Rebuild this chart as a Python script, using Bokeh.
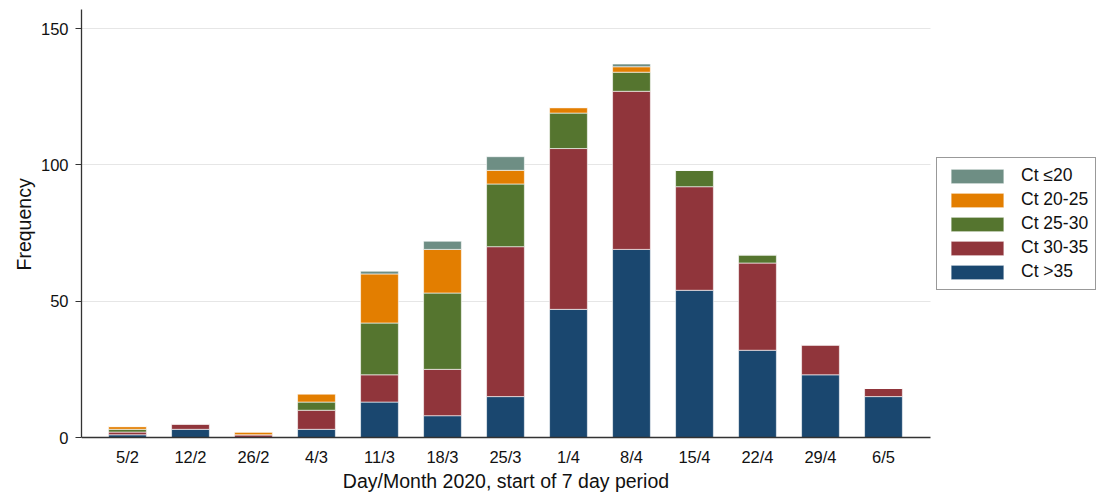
from bokeh.plotting import figure
from bokeh.models import Range1d, FixedTicker, Legend, LegendItem, Title
from bokeh.embed import file_html
from bokeh.resources import INLINE

weeks = ["5/2", "12/2", "26/2", "4/3", "11/3", "18/3", "25/3", "1/4", "8/4", "15/4", "22/4", "29/4", "6/5"]
ct_gt35 = [1, 3, 0, 3, 13, 8, 15, 47, 69, 54, 32, 23, 15]
ct_30_35 = [1, 2, 1, 7, 10, 17, 55, 59, 58, 38, 32, 11, 3]
ct_25_30 = [1, 0, 0, 3, 19, 28, 23, 13, 7, 6, 3, 0, 0]
ct_20_25 = [1, 0, 1, 3, 18, 16, 5, 2, 2, 0, 0, 0, 0]
ct_le20 = [0, 0, 0, 0, 1, 3, 5, 0, 1, 0, 0, 0, 0]
y_ticks = [0, 50, 100, 150]

series_keys = ["gt35", "c3035", "c2530", "c2025", "le20"]
series_labels = ["Ct >35", "Ct 30-35", "Ct 25-30", "Ct 20-25", "Ct \u226420"]
colors = ["#1a476f", "#90353b", "#55752f", "#e37e00", "#6e8e84"]

FONT = "Liberation Sans"

data = {"x": list(range(len(weeks))),
        "gt35": ct_gt35, "c3035": ct_30_35, "c2530": ct_25_30,
        "c2025": ct_20_25, "le20": ct_le20}

# plot area geometry (screen px)
W, H = 1098, 493
LEFT, TOP = 81, 9
PX_PER_CAT = 63.0
X0 = -0.73
X_AXIS_END = X0 + 849 / PX_PER_CAT
X_END = X0 + (W - LEFT) / PX_PER_CAT
Y_TOP = 157
PX_PER_UNIT = 428 / Y_TOP
Y_BOTTOM = -((H - TOP - 428) / PX_PER_UNIT)

p = figure(width=W, height=H, output_backend="svg", toolbar_location=None,
           x_range=Range1d(X0, X_END), y_range=Range1d(Y_BOTTOM, Y_TOP),
           min_border_left=LEFT, min_border_right=0, min_border_top=TOP, min_border_bottom=0)

renderers = p.vbar_stack(series_keys, x="x", width=0.6, source=data, color=colors,
                         line_color="white", line_width=0.6)

p.outline_line_color = None
p.background_fill_color = "white"
p.xgrid.grid_line_color = None
p.ygrid.grid_line_color = "#e6e6e6"
p.ygrid.grid_line_width = 1.2
p.ygrid.ticker = FixedTicker(ticks=y_ticks[1:])
p.ygrid.cross_bounds = (X0, X_AXIS_END)

p.xaxis.fixed_location = 0
p.xaxis.bounds = (X0, X_AXIS_END)
p.xaxis.ticker = FixedTicker(ticks=list(range(len(weeks))))
p.xaxis.major_label_overrides = {i: w for i, w in enumerate(weeks)}
p.xaxis.minor_tick_line_color = None
p.xaxis.major_tick_out = 0
p.xaxis.major_tick_in = 0
p.xaxis.major_label_standoff = 10
p.xaxis.axis_label = "Day/Month 2020, start of 7 day period"
p.xaxis.axis_label_standoff = 1

p.yaxis.bounds = (0, Y_TOP)
p.yaxis.ticker = FixedTicker(ticks=y_ticks)
p.yaxis.minor_tick_line_color = None
p.yaxis.major_tick_out = 6
p.yaxis.major_tick_in = 0
p.yaxis.major_label_standoff = 7

for ax in (p.xaxis, p.yaxis):
    ax.axis_line_color = "#333333"
    ax.axis_line_width = 1.3
    ax.major_label_text_font = FONT
    ax.major_label_text_font_size = "16.5px"
    ax.major_label_text_color = "#111111"
    ax.axis_label_text_font = FONT
    ax.axis_label_text_font_size = "19.5px"
    ax.axis_label_text_font_style = "normal"
    ax.axis_label_text_color = "#111111"
p.xaxis.major_tick_line_color = None
p.yaxis.major_tick_line_color = "#333333"
p.yaxis.major_tick_line_width = 1.2

# y-axis title, centred on the 0-157 span rather than on the whole frame
ytitle = Title(text="Frequency", align="left", offset=H - 270, standoff=6,
               vertical_align="bottom", text_font=FONT, text_font_size="19.5px",
               text_font_style="normal", text_color="#111111")
p.add_layout(ytitle, "left")

items = [LegendItem(label=series_labels[i], renderers=[renderers[i]]) for i in reversed(range(5))]
legend = Legend(items=items, location=(855, 203), orientation="vertical",
                glyph_width=66, glyph_height=18, spacing=3, padding=7, margin=0,
                label_standoff=11, label_text_font=FONT, label_text_font_size="17.5px",
                label_text_color="#111111", label_height=18,
                border_line_color="#333333", border_line_width=1.2,
                background_fill_color="white", background_fill_alpha=1)
p.add_layout(legend, "center")

open("out.html", "w").write(file_html(p, INLINE))
